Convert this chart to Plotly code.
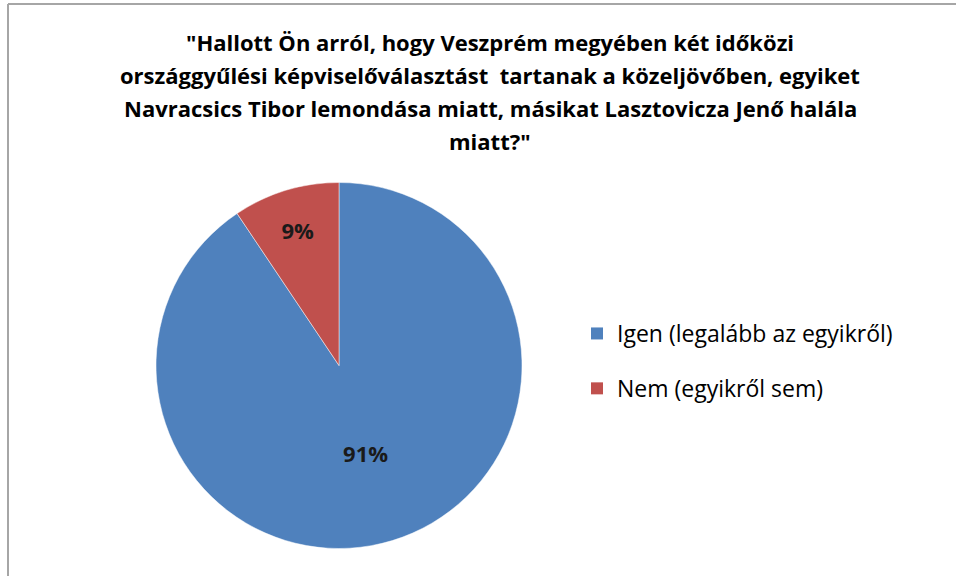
import plotly.graph_objects as go

labels = ["Igen (legalább az egyikről)", "Nem (egyikről sem)"]
values = [90.6, 9.4]
colors = ["#4F81BD", "#C0504D"]
title_lines = [
    "\"Hallott Ön arról, hogy Veszprém megyében két időközi",
    "országgyűlési képviselőválasztást  tartanak a közeljövőben, egyiket",
    "Navracsics Tibor lemondása miatt, másikat Lasztovicza Jenő halála",
    "miatt?\"",
]

W, H = 956, 576
FONT = "Open Sans"

fig = go.Figure()
fig.add_trace(go.Pie(
    labels=labels,
    values=values,
    sort=False,
    direction="clockwise",
    rotation=0,
    marker=dict(colors=colors, line=dict(color="rgba(255,255,255,0.6)", width=0.8)),
    texttemplate="<b>%{percent:.0%}</b>",
    textposition="inside",
    insidetextorientation="horizontal",
    textfont=dict(family=FONT, size=22, color="#1a1a1a"),
    domain=dict(x=[156 / W, 522 / W], y=[1 - 549 / H, 1 - 182 / H]),
    hoverinfo="label+percent",
    showlegend=False,
))

# legend entries (one group per category so the gap between them can be set)
for lab, col in zip(labels, colors):
    fig.add_trace(go.Scatter(
        x=[None], y=[None], mode="markers", name=lab, legendgroup=lab,
        marker=dict(symbol="square", size=12, color=col),
        hoverinfo="skip",
    ))

annotations = []
for i, line in enumerate(title_lines):
    annotations.append(dict(
        text="<b>" + line + "</b>", showarrow=False,
        xref="paper", yref="paper",
        x=490 / W, xanchor="center",
        y=1 - (42 + 33 * i) / H, yanchor="middle",
        font=dict(family=FONT, size=22, color="#000000"),
    ))

fig.update_layout(
    width=W, height=H,
    margin=dict(l=0, r=0, t=0, b=0),
    paper_bgcolor="white",
    plot_bgcolor="white",
    font=dict(family=FONT, color="#000000"),
    xaxis=dict(visible=False),
    yaxis=dict(visible=False),
    annotations=annotations,
    legend=dict(
        x=577 / W, xanchor="left",
        y=1 - 312 / H, yanchor="top",
        font=dict(family=FONT, size=23, color="#000000"),
        tracegroupgap=22,
        itemsizing="trace",
        bgcolor="rgba(0,0,0,0)",
    ),
    shapes=[
        dict(type="line", xref="paper", yref="paper", x0=8 / W, x1=1.01, y0=1 - 4 / H, y1=1 - 4 / H,
             line=dict(color="#A6A6A6", width=2)),
        dict(type="line", xref="paper", yref="paper", x0=8 / W, x1=8 / W, y0=-0.01, y1=1 - 4 / H,
             line=dict(color="#A6A6A6", width=2)),
    ],
)

fig.write_html("out.html", config={"displayModeBar": False},
               post_script="document.body.style.margin='0px';")
